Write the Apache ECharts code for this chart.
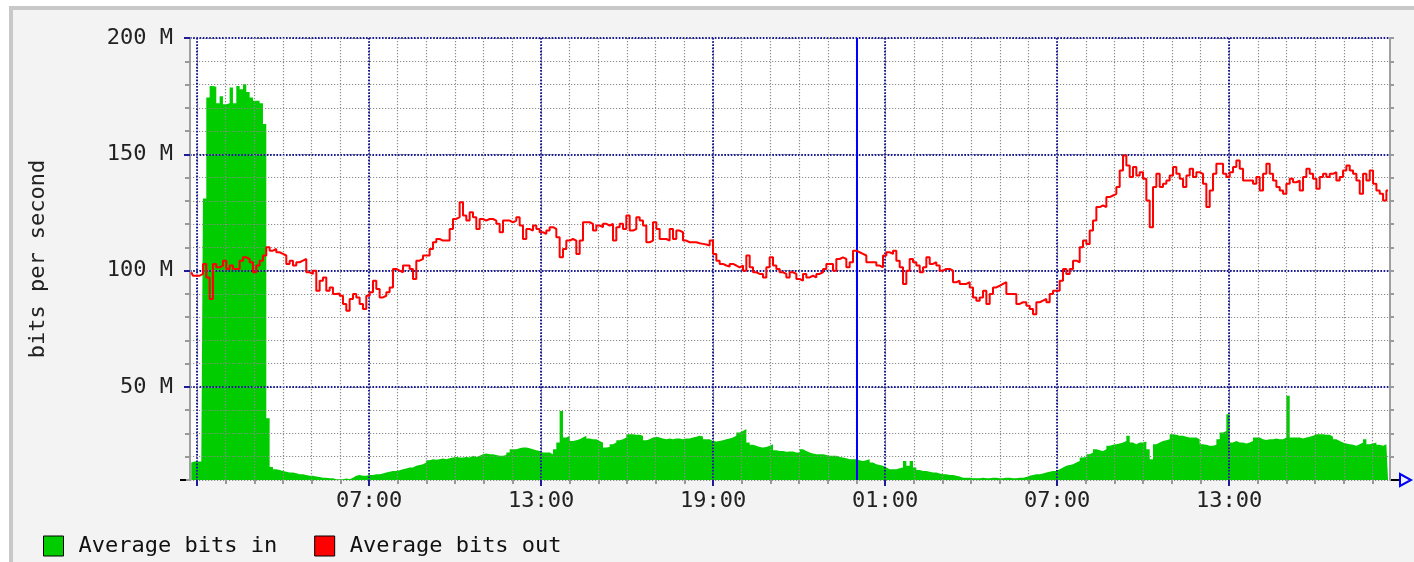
<!DOCTYPE html>
<html><head><meta charset="utf-8">
<script src="https://cdn.jsdelivr.net/npm/echarts@6/dist/echarts.min.js"></script>
<style>
html,body{margin:0;padding:0;background:#fff;overflow:hidden;}
#frame{position:absolute;left:9px;top:6px;width:1405px;height:556px;background:#f3f3f3;border-top:4px solid #c8c8c8;border-left:4px solid #c8c8c8;box-sizing:border-box;}
#chart{position:absolute;left:0;top:0;width:1414px;height:562px;}
</style></head><body>
<div id="frame"></div><div id="chart"></div>
<script>
// ---- data (Mbit/s), regular samples every ~7 minutes ----
const seriesNames = ['Average bits in', 'Average bits out'];
const sampleStartHour = 0.801;   // first sample, hours after midnight of day 1
const sampleStepHour = 0.11627;  // sample spacing in hours

const bitsInM = [
17.5,18.0,18.0,18.0,131.0,
174.4,179.4,179.0,172.0,175.0,171.5,172.0,178.7,172.0,179.4,178.0,180.1,176.8,174.4,173.0,173.0,172.0,163.0,
36.5,15.6,
14.6,14.3,13.9,13.6,13.2,13.2,12.9,12.5,12.5,12.2,
11.8,11.8,11.5,11.3,11.0,11.0,10.8,10.8,10.3,10.3,
10.3,10.6,10.3,11.0,11.8,12.1,11.8,11.8,12.1,12.1,
12.5,12.5,12.8,13.2,13.5,13.9,13.9,14.2,14.6,14.9,
15.4,15.4,16.1,16.5,16.8,17.5,18.5,18.9,18.7,18.9,
19.2,18.9,19.4,19.7,19.9,19.7,19.7,19.9,19.7,20.4,
19.9,20.4,21.1,21.4,
21.1,21.1,20.7,20.4,20.4,20.8,21.8,23.2,23.2,23.7,
24.0,24.0,23.7,23.2,22.8,22.5,21.8,21.8,21.8,21.1,
23.2,26.1,39.7,28.3,29.0,26.8,27.1,27.5,28.3,29.0,
27.8,27.5,27.5,26.8,26.1,24.0,24.2,25.4,26.1,27.1,
27.5,28.3,29.7,29.7,29.4,29.4,29.0,27.1,27.5,28.3,
28.6,28.3,27.8,27.5,27.8,27.5,27.8,27.8,27.5,27.8,
27.8,28.3,28.6,29.0,28.7,27.5,27.5,26.8,26.5,26.8,
27.1,27.5,27.8,28.3,29.0,30.4,31.1,31.9,26.1,25.1,
24.7,24.2,24.0,24.2,24.7,25.4,22.8,22.5,22.5,22.1,
22.2,22.2,21.8,21.8,23.2,22.5,21.8,21.4,21.1,21.1,
21.1,20.7,20.4,20.4,20.4,19.9,19.7,19.4,18.9,18.9,
18.9,18.5,18.2,18.5,18.9,17.5,16.8,16.5,16.1,15.4,
14.6,14.6,14.6,15.1,15.4,18.2,16.1,18.2,15.4,14.3,
13.9,13.9,13.5,13.2,13.2,12.8,12.5,12.5,12.2,12.1,
11.8,11.5,11.0,11.0,11.0,10.8,10.8,10.8,11.0,10.8,
10.8,11.0,11.0,10.8,10.8,11.0,11.0,10.8,10.8,11.0,
11.0,11.3,11.8,12.1,12.5,12.5,12.8,13.2,13.5,13.9,
13.9,14.6,15.4,16.1,16.5,16.8,17.5,18.2,19.7,19.9,
21.1,21.8,23.2,22.8,22.5,23.2,24.7,25.1,25.4,25.7,
26.1,26.8,29.0,26.1,25.4,26.1,26.1,26.5,23.2,18.9,
25.4,26.1,26.8,27.1,27.5,29.7,29.4,29.0,29.0,28.6,
28.3,28.3,28.3,27.5,25.4,25.1,24.7,24.7,25.1,27.5,
30.4,31.1,38.3,26.1,26.8,26.1,26.1,25.7,26.1,26.8,
28.3,28.3,27.5,27.2,27.5,27.5,27.8,27.5,27.5,28.3,
46.2,28.3,28.3,28.3,27.8,28.3,28.6,29.0,29.7,29.7,
29.7,29.4,29.4,28.6,27.5,26.8,26.1,25.7,25.4,25.1,
24.7,25.4,26.1,27.5,25.4,25.7,26.1,25.1,24.7,25.4,
26.1
];

const bitsOutM = [
99.3,97.8,97.8,98.6,102.9,97.1,87.8,102.9,101.4,102.2,
104.3,100.7,102.2,100.7,100.7,104.3,105.7,105.0,103.6,99.3,
102.2,104.3,106.5,110.0,108.6,109.3,107.9,107.2,106.5,102.9,
104.3,102.2,103.6,104.3,105.0,99.3,98.6,100.0,91.4,95.7,
97.1,91.4,92.8,90.0,90.2,89.2,85.7,82.8,87.8,90.0,
88.5,85.7,83.5,89.2,90.7,95.7,92.1,88.5,89.2,90.7,
92.8,100.7,100.0,99.3,102.2,102.2,100.7,96.4,104.3,105.0,
106.5,106.5,109.3,112.2,113.6,112.9,112.9,112.9,117.9,122.2,
123.0,129.4,123.7,121.5,125.1,123.0,117.9,122.2,121.5,
122.2,122.2,121.5,120.1,116.5,121.5,121.5,120.8,121.5,123.0,
119.4,113.6,117.9,117.2,119.4,117.9,116.5,115.8,117.2,118.7,
117.9,114.3,105.7,109.3,112.9,113.6,112.9,107.2,112.9,120.8,
120.8,120.1,117.2,119.4,118.7,120.1,119.4,120.1,112.9,118.7,
120.1,117.9,123.7,117.2,117.9,123.0,121.5,119.4,112.2,112.9,
120.8,117.9,113.6,113.6,112.9,117.9,113.6,117.2,116.5,112.9,
112.2,112.2,112.2,111.8,111.5,111.2,110.8,112.9,107.2,104.3,
102.9,102.2,101.7,102.9,102.2,101.4,102.2,100.0,106.5,101.4,
99.3,98.6,98.6,97.1,101.4,105.7,102.2,100.7,99.3,98.6,
97.1,99.3,98.6,96.4,95.7,98.6,97.1,97.8,97.1,98.6,
99.3,100.7,102.9,102.9,100.0,105.0,105.7,105.0,101.4,103.6,
108.6,107.9,107.2,106.5,103.6,103.6,103.6,102.2,101.4,106.5,
107.9,107.2,108.6,104.3,101.4,94.3,100.0,105.0,103.6,102.2,
99.3,101.4,105.7,102.9,103.6,102.2,100.0,100.7,100.7,100.0,
95.0,95.7,94.3,94.3,95.0,92.8,88.5,87.1,88.5,91.4,
85.7,90.0,92.8,93.5,94.3,95.0,90.0,90.0,90.0,85.7,
86.4,86.4,84.9,83.5,81.3,86.4,87.1,87.8,86.4,90.0,
91.4,91.4,95.7,100.7,98.6,100.7,104.3,103.6,110.0,112.9,
111.5,117.2,121.5,127.3,128.0,127.3,131.6,132.3,133.0,135.9,
143.0,149.5,145.2,140.2,144.5,140.9,142.3,139.5,130.1,118.7,
135.9,141.6,135.9,137.3,138.7,140.9,144.5,141.6,139.5,135.9,
140.9,143.8,140.2,142.3,141.6,137.3,127.3,134.4,141.6,145.9,
145.9,141.6,140.2,142.3,144.5,147.3,143.8,138.7,138.7,138.7,
137.3,140.2,134.4,141.6,145.9,141.6,138.7,135.9,134.4,133.0,
137.3,139.5,138.0,138.7,134.4,140.2,143.8,141.6,139.5,135.2,
140.2,141.6,140.2,141.6,142.3,138.7,140.2,143.0,145.2,143.0,
141.6,138.7,133.0,141.6,138.7,143.0,137.3,134.4,133.0,130.1,
134.4
];

// ---- axes / ticks ----
const xMinHour = 0.756, xMaxHour = 42.61;
const hourTicks = [1,2,3,4,5,6,7,8,9,10,11,12,13,14,15,16,17,18,19,20,21,22,23,24,25,26,27,28,29,30,31,32,33,34,35,36,37,38,39,40,41,42];
const sixHourTicks = [1,7,13,19,25,31,37];
const timeLabelHours = [7,13,19,25,31,37];
const dayBoundaryHours = [24];
const yMin = 10, yMax = 200, yStep = 10;
const yLabelValues = [50,100,150,200];
const yAxisTitle = 'bits per second';

const FONT = 'DejaVu Sans Mono';
const toPairs = vals => vals.map((v, i) => [sampleStartHour + i * sampleStepHour, v]);
const pad2 = n => (n < 10 ? '0' : '') + n;

const chart = echarts.init(document.getElementById('chart'), null, {renderer: 'canvas'});
const gridDot = {color: '#8c8c8c', width: 1.2, type: [1.2, 1.8]};
const majorDot = {color: '#1c1c96', width: 2, type: [1.6, 1.6]};

chart.setOption({
  animation: false,
  backgroundColor: 'transparent',
  textStyle: {fontFamily: FONT},
  grid: {left: 190, right: 24, top: 38, bottom: 82, show: true, backgroundColor: '#ffffff', borderWidth: 0},
  legend: {
    left: 38, top: 530, itemWidth: 20, itemHeight: 20, itemGap: 37, icon: 'rect',
    data: seriesNames,
    textStyle: {fontFamily: FONT, fontSize: 22, color: '#111', padding: [0, 0, 0, 10]},
    itemStyle: {borderColor: '#000', borderWidth: 1},
    selectedMode: false
  },
  xAxis: [
    {
      type: 'value', min: xMinHour, max: xMaxHour, position: 'bottom', zlevel: 1,
      axisLine: {show: false, onZero: false},
      axisTick: {show: true, customValues: hourTicks, length: 4, lineStyle: {color: '#999', width: 2}},
      axisLabel: {show: false, customValues: hourTicks},
      splitLine: {show: true, lineStyle: gridDot}
    },
    {
      type: 'value', min: xMinHour, max: xMaxHour, position: 'bottom', zlevel: 1,
      axisLine: {show: false, onZero: false},
      axisTick: {show: true, customValues: sixHourTicks, length: 6, lineStyle: {color: '#1c1c96', width: 2}},
      axisLabel: {show: true, customValues: timeLabelHours, margin: 10, fontSize: 22, fontFamily: FONT, color: '#222',
        formatter: v => pad2(Math.round(v) % 24) + ':00'},
      splitLine: {show: true, lineStyle: majorDot}
    }
  ],
  yAxis: [
    {
      type: 'value', min: yMin, max: yMax, interval: yStep, position: 'left', zlevel: 1,
      name: yAxisTitle, nameLocation: 'middle', nameGap: 141, nameRotate: 90,
      nameTextStyle: {fontFamily: FONT, fontSize: 22, color: '#222'},
      axisLine: {show: true, onZero: false, lineStyle: {color: '#a0a0a0', width: 2}},
      axisTick: {show: true, length: 5, lineStyle: {color: '#999', width: 2}},
      axisLabel: {show: false},
      splitLine: {show: true, lineStyle: gridDot}
    },
    {
      type: 'value', min: yMin, max: yMax, position: 'left', zlevel: 1,
      axisLine: {show: false},
      axisTick: {show: true, customValues: yLabelValues, length: 6, lineStyle: {color: '#1c1c96', width: 2}},
      axisLabel: {show: true, customValues: yLabelValues, margin: 17, fontSize: 22, fontFamily: FONT, color: '#222',
        formatter: v => v + ' M'},
      splitLine: {show: true, lineStyle: majorDot}
    },
    {
      type: 'value', min: yMin, max: yMax, interval: yStep, position: 'right', zlevel: 1,
      axisLine: {show: true, lineStyle: {color: '#a0a0a0', width: 2}},
      axisTick: {show: true, length: 4, lineStyle: {color: '#999', width: 2}},
      axisLabel: {show: false},
      splitLine: {show: false}
    }
  ],
  series: [
    {
      name: seriesNames[0], type: 'line', step: 'middle', zlevel: 0,
      xAxisIndex: 0, yAxisIndex: 0,
      symbol: 'none', showSymbol: false,
      itemStyle: {color: '#00cc00'},
      lineStyle: {width: 0, color: '#00cc00'},
      areaStyle: {color: '#00cc00', opacity: 1, origin: 'start'},
      data: toPairs(bitsInM)
    },
    {
      name: seriesNames[1], type: 'line', step: 'middle', zlevel: 3,
      xAxisIndex: 0, yAxisIndex: 0,
      symbol: 'none', showSymbol: false,
      itemStyle: {color: '#ff0000'},
      lineStyle: {width: 2, color: '#ff0000'},
      data: toPairs(bitsOutM)
    },
    {
      name: 'day boundary', type: 'line', zlevel: 2,
      xAxisIndex: 0, yAxisIndex: 0,
      symbol: 'none', data: [],
      markLine: {
        zlevel: 2, z: 10,
        silent: true, symbol: ['none', 'none'], label: {show: false},
        lineStyle: {color: '#0000ff', width: 2, type: 'solid'},
        data: dayBoundaryHours.map(h => ({xAxis: h}))
      }
    }
  ],
  graphic: [
    {type: 'line', zlevel: 2, shape: {x1: 180, y1: 480, x2: 186, y2: 480}, style: {stroke: '#000', lineWidth: 2}},
    {type: 'line', zlevel: 2, shape: {x1: 1391, y1: 480, x2: 1400, y2: 480}, style: {stroke: '#000', lineWidth: 2}},
    {type: 'polygon', zlevel: 2, shape: {points: [[1400, 474], [1411, 480], [1400, 486]]}, style: {stroke: '#0000ff', lineWidth: 2, fill: 'none'}}
  ]
});
</script>
</body></html>
